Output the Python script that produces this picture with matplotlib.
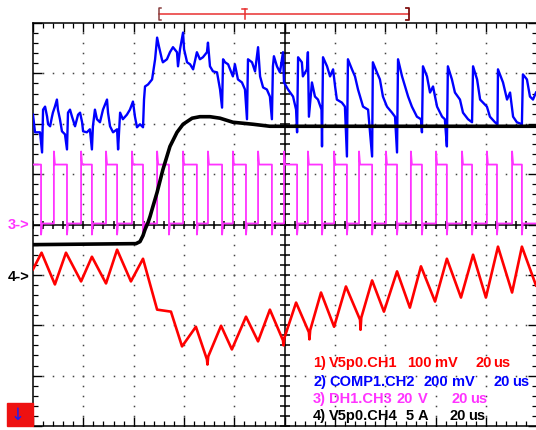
import matplotlib
matplotlib.use('Agg')
import matplotlib.pyplot as plt
import numpy as np
from matplotlib.transforms import blended_transform_factory

# ---------------- data (time in us, 20 us/div; level in divisions, 0 = centre) ----
blue_t = [0.0, 0.8, 2.8, 3.6, 4.0, 4.8, 5.6, 6.0, 6.8, 7.5, 7.9, 8.7, 9.5, 9.9, 10.7, 11.5,
          12.7, 13.5, 13.9, 14.7, 15.5, 16.7, 17.9, 18.7, 19.5, 19.9, 21.4, 22.6, 23.4, 23.8,
          24.6, 25.4, 26.6, 27.8, 29.4, 29.8, 30.6, 31.8, 33.4, 33.8, 34.6, 35.7, 37.3, 38.5,
          39.7, 40.5, 41.3, 42.5, 43.7, 44.1, 44.5, 45.7, 47.3, 48.1, 48.5, 49.3, 50.0, 51.2,
          51.6, 53.2, 54.4, 55.6, 57.2, 57.6, 58.4, 59.6, 60.0, 61.2, 62.4, 63.6, 65.1, 66.3,
          67.5, 69.1, 69.5, 70.3, 71.5, 73.1, 74.3, 75.1, 75.5, 76.3, 77.5, 79.4, 80.2, 81.4,
          83.0, 84.2, 85.0, 85.4, 87.0, 88.2, 89.4, 90.2, 91.4, 92.9, 94.1,
          94.9, 95.3, 95.7, 96.9, 98.1, 99.3, 99.7, 101.3, 103.3, 104.5, 104.9, 105.3, 106.8,
          107.2, 108.8, 109.2, 109.6, 110.8, 112.0, 113.2, 114.6, 114.8, 115.2, 116.8, 118.0,
          119.2, 120.0, 120.7, 122.7, 123.9, 124.7, 125.1, 126.7, 127.9, 129.1, 131.1, 133.1,
          134.7, 135.0, 136.6, 137.8, 139.0, 140.6, 142.6, 143.8, 144.6, 145.0, 146.6, 147.8,
          149.0, 150.5, 152.5, 154.1, 154.5, 154.9, 156.5, 157.7, 158.9, 160.5, 162.5, 163.6,
          164.4, 164.8, 166.4, 167.6, 169.6, 170.8, 172.8, 174.4, 174.8, 176.4, 177.6, 180.3,
          181.5, 183.5, 184.5, 184.7, 186.7, 188.3, 189.5, 190.7, 192.2, 194.2, 194.6, 196.2,
          197.4, 198.6, 199.8]
blue_v = [2.18, 1.83, 1.83, 1.43, 2.28, 2.34, 2.14, 1.99, 1.95, 2.13, 2.22, 2.34, 2.48, 2.28, 2.09, 1.85,
          1.79, 1.49, 2.22, 2.28, 2.14, 1.95, 2.18, 2.22, 2.03, 1.85, 1.83, 1.89, 1.49, 1.95,
          2.28, 2.09, 2.03, 2.28, 2.48, 2.22, 1.95, 1.83, 1.89, 1.49, 2.22, 2.09, 2.18, 2.28,
          2.44, 2.14, 1.93, 1.99, 1.93, 2.48, 2.74, 2.78, 2.88, 3.14, 3.28, 3.71, 3.54, 3.28,
          3.22, 3.28, 3.42, 3.52, 3.42, 3.14, 3.48, 3.81, 3.48, 3.22, 3.18, 3.08, 3.42, 3.28,
          3.32, 3.42, 3.61, 3.14, 3.04, 3.02, 2.68, 2.32, 3.28, 3.22, 3.18, 2.94, 3.18, 2.88,
          2.82, 2.68, 2.09, 3.28, 3.22, 3.04, 3.52, 2.94, 2.72, 2.68, 2.54,
          2.09, 3.14, 3.34, 3.14, 3.02, 3.42, 2.82, 2.68, 2.54, 2.28, 1.83, 3.32, 3.22,
          2.94, 3.08, 3.42, 2.14, 2.82, 2.54, 2.48, 2.28, 1.55, 3.32, 3.14, 2.94,
          3.08, 2.74, 2.48, 2.42, 2.34, 1.35, 3.28, 3.08, 2.94, 2.68, 2.34, 2.28,
          1.35, 3.22, 3.02, 2.88, 2.54, 2.34, 2.22, 2.14, 1.43, 3.28, 2.94, 2.74,
          2.54, 2.34, 2.14, 2.09, 1.83, 3.14, 2.94, 2.62, 2.74, 2.34, 2.14, 2.09,
          1.55, 3.14, 2.88, 2.62, 2.48, 2.22, 2.09, 2.03, 3.14, 2.88, 2.48, 2.34,
          2.14, 2.03, 1.99, 3.08, 2.82, 2.48, 2.62, 2.14, 2.03, 1.99, 2.98, 2.88,
          2.54, 2.48, 2.62]

red_t = [0.0, 3.4, 8.7, 13.1, 19.1, 23.4, 29.0, 33.4, 38.9, 43.7, 49.3, 54.8, 59.2, 64.7,
         69.1, 69.3, 69.6, 74.7, 79.0, 84.6, 89.4, 94.1, 99.3, 99.5, 99.8, 104.5, 109.6, 109.8,
         110.1, 114.4, 119.6, 124.3, 129.9, 130.1, 130.4, 134.7, 139.4, 144.6, 149.7, 154.1,
         159.7, 164.4, 170.0, 174.8, 179.9, 184.7, 190.3, 194.2, 199.8]
red_v = [-0.89, -0.56, -1.19, -0.56, -1.13, -0.64, -1.17, -0.50, -1.13, -0.68, -1.69, -1.73,
         -2.42, -2.03, -2.68, -2.78, -2.62, -2.01, -2.48, -1.83, -2.32, -1.69, -2.30, -2.40,
         -2.26, -1.55, -2.14, -2.28, -2.10, -1.35, -2.03, -1.23, -1.89, -2.09, -1.85, -1.11,
         -1.73, -0.93, -1.65, -0.83, -1.53, -0.68, -1.45, -0.60, -1.45, -0.44, -1.35, -0.44,
         -1.21]

black_t = [0.0, 40.9, 42.5, 43.7, 44.5, 45.7, 46.5, 47.3, 49.3, 51.6, 54.4, 57.2, 59.6, 63.2,
           66.3, 70.3, 74.3, 79.4, 87.4, 94.1, 200.0]
black_v = [-0.40, -0.38, -0.34, -0.22, -0.10, 0.04, 0.16, 0.30, 0.64, 1.09, 1.55, 1.83, 1.99,
           2.11, 2.14, 2.14, 2.11, 2.03, 1.99, 1.95, 1.95]

pink_rise = [8.3, 19.1, 29.0, 39.3, 49.3, 59.6, 69.5, 79.4, 89.4, 99.7, 109.2, 119.6, 129.5,
             140.2, 150.1, 160.1, 170.4, 180.3, 190.3]
pink_fall = [3.2, 13.5, 23.4, 33.4, 43.7, 54.0, 65.1, 75.1, 84.6, 94.9, 104.9, 114.8, 124.7,
             134.7, 144.6, 154.5, 164.4, 174.4, 184.3, 194.2]
pink_high = 1.19
pink_low = 0.02
pink_over = 1.45
pink_under = -0.20

legend_lines = [
    ['1)', 'V5p0.CH1', '100', 'mV', '20', 'us'],
    ['2)', 'COMP1.CH2', '200', 'mV', '20', 'us'],
    ['3)', 'DH1.CH3', '20', 'V', '20', 'us'],
    ['4)', 'V5p0.CH4', '5', 'A', '20', 'us'],
]

# ---------------- figure ----------------
W, H = 536, 431
fig = plt.figure(figsize=(W / 100, H / 100), dpi=100)
fig.patch.set_facecolor('white')
ax = fig.add_axes([33 / W, 4 / H, 503.5 / W, 403 / H])
ax.set_xlim(0, 200)
ax.set_ylim(-4, 4)
ax.set_facecolor('white')

# frame and ticks
for s in ['left', 'top', 'bottom']:
    ax.spines[s].set_linewidth(1.1)
    ax.spines[s].set_color('black')
ax.spines['right'].set_visible(False)
ax.set_xticks(np.arange(0, 201, 20))
ax.set_xticks(np.arange(0, 201, 4), minor=True)
ax.set_yticks(np.arange(-4, 4.01, 1))
ax.set_yticks(np.arange(-4, 4.01, 0.2), minor=True)
ax.tick_params(which='both', direction='in', top=True, right=True, bottom=True, left=True,
               labelbottom=False, labelleft=False, color='black')
ax.tick_params(which='major', length=6.5, width=1.0)
ax.tick_params(which='minor', length=3.6, width=0.9)

# dotted graticule
gx_major = np.arange(20, 200, 20)
gy_major = np.arange(-3, 4, 1)
fine_x = np.arange(0, 200.1, 4)
fine_y = np.arange(-4, 4.01, 0.2)
for yy in gy_major:
    ax.plot(fine_x, np.full_like(fine_x, yy), ls='none', marker='s', ms=1.1, mew=0,
            color='#444444', zorder=1)
for xx in gx_major:
    ax.plot(np.full_like(fine_y, xx), fine_y, ls='none', marker='s', ms=1.1, mew=0,
            color='#444444', zorder=1)

# centre cross with ticks
ax.axhline(0, color='black', lw=1.1, zorder=2)
ax.axvline(100, color='black', lw=1.1, zorder=2)
ax.plot(np.full_like(fine_y, 100), fine_y, ls='none', marker='_', ms=6.5, mew=1.1,
        color='black', zorder=2)
ax.plot(fine_x, np.zeros_like(fine_x), ls='none', marker='|', ms=6.0, mew=1.1,
        color='black', zorder=2)

# pink switching node waveform from edge list
pt, pv = [0.0], [pink_high]
events = sorted([(t, 'f') for t in pink_fall] + [(t, 'r') for t in pink_rise])
for t, k in events:
    if k == 'f':
        pt += [t, t, t + 0.4]
        pv += [pink_high, pink_under, pink_low]
    else:
        pt += [t, t, t + 0.4]
        pv += [pink_low, pink_over, pink_high]
pt.append(200.0)
pv.append(pink_low)

ax.plot(blue_t, blue_v, color='#0000ff', lw=1.7, zorder=3)
ax.plot(pt, pv, color='#ff33ff', lw=1.3, zorder=4)
ax.plot(red_t, red_v, color='#ff0000', lw=1.9, zorder=5)
ax.plot(black_t, black_v, color='black', lw=2.6, zorder=6)

# trigger / memory bar above the graticule
tb = blended_transform_factory(ax.transData, fig.transFigure)
ybar = 1 - 15 / H
ax.plot([50.0, 149.3], [ybar, ybar], color='#e83030', lw=1.1, transform=tb, clip_on=False)
ax.plot([51.0, 50.0, 50.0, 51.0], [ybar + 6 / H, ybar + 6 / H, ybar - 6 / H, ybar - 6 / H],
        color='#8a4040', lw=1.1, transform=tb, clip_on=False)
ax.plot([148.3, 149.3, 149.3, 148.3], [ybar + 6 / H, ybar + 6 / H, ybar - 6 / H, ybar - 6 / H],
        color='#801010', lw=1.3, transform=tb, clip_on=False)
ax.plot([83.2, 85.2], [ybar + 5 / H, ybar + 5 / H], color='#e83030', lw=1.1, transform=tb,
        clip_on=False)
ax.plot([84.2, 84.2], [ybar + 5 / H, ybar - 5 / H], color='#e83030', lw=1.1, transform=tb,
        clip_on=False)

# channel ground markers
font = dict(family=['Liberation Sans', 'DejaVu Sans'], weight='bold', fontsize=10.5)
fig.text(8 / W, 1 - 225 / H, '3->', color='#ff33ff', va='center', ha='left', **font)
fig.text(8 / W, 1 - 277 / H, '4->', color='black', va='center', ha='left', **font)

# red box with arrow
fig.patches.append(plt.Rectangle((7 / W, 1 - 427 / H), 26 / W, 23 / H, color='#ee1111',
                                 transform=fig.transFigure, figure=fig, zorder=10))
fig.text(18 / W, 1 - 415 / H, '\u2193', color='#1020ff', ha='center', va='center',
         fontsize=12, family='DejaVu Sans', zorder=11)

# legend text
colors = ['#ff0000', '#0000ff', '#ff33ff', 'black']
xpos = [
    [313, 329, 407, 435, 475, 493],
    [313, 329, 423, 452, 493, 512],
    [313, 329, 397, 418, 452, 470],
    [313, 329, 406, 418, 450, 468],
]
baselines = [367, 386, 403, 420]
for words, xs, yb, c in zip(legend_lines, xpos, baselines, colors):
    for w_, x_ in zip(words, xs):
        fig.text(x_ / W, 1 - yb / H, w_, color=c, ha='left', va='baseline', **font)

fig.savefig('out.png', dpi=100)
